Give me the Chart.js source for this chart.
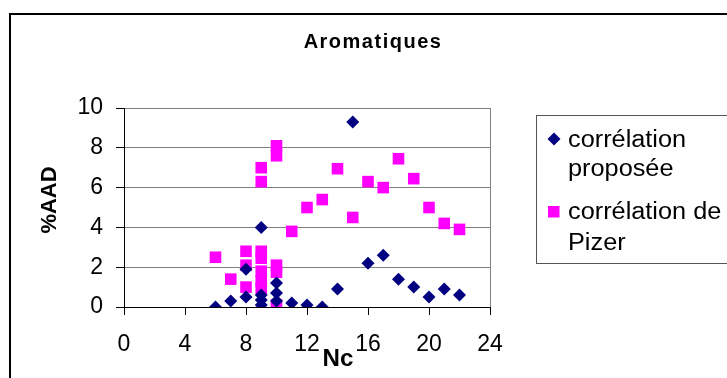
<!DOCTYPE html>
<html>
<head>
<meta charset="utf-8">
<script src="https://cdn.jsdelivr.net/npm/chart.js@4.4.1/dist/chart.umd.min.js"></script>
<style>
  body { margin: 0; background: #fff; }
  canvas { display: block; }
</style>
</head>
<body>
<canvas id="myCanvas" width="727" height="378"></canvas>
<script>
const FONT = "Arial, 'Liberation Sans', sans-serif";

// corrélation proposée
const ncProposee = [6, 7, 8, 8, 9, 9, 9, 9, 10, 10, 10, 11, 12, 13, 14, 15, 16, 17, 18, 19, 20, 21, 22];
const aadProposee = [0.0, 0.3, 0.5, 1.9, 4.0, 0.6, 0.35, 0.1, 1.2, 0.7, 0.3, 0.2, 0.1, 0.0, 0.9, 9.3, 2.2, 2.6, 1.4, 1.0, 0.5, 0.9, 0.6];

// corrélation de Pizer
const ncPizer = [6, 7, 8, 8, 8, 9, 9, 9, 9, 9, 9, 9, 10, 10, 10, 10, 10, 11, 12, 13, 14, 15, 16, 17, 18, 19, 20, 21, 22];
const aadPizer = [2.5, 1.4, 2.8, 2.1, 1.0, 7.0, 6.3, 2.8, 2.45, 1.8, 1.3, 0.95, 8.1, 7.6, 2.1, 1.75, 0.1, 3.8, 5.0, 5.4, 6.95, 4.5, 6.3, 6.0, 7.45, 6.45, 5.0, 4.2, 3.9];

const seriesLabels = [['corrélation', 'proposée'], ['corrélation de', 'Pizer']];
const chartTitle = 'Aromatiques';
const xTitle = 'Nc';
const yTitle = '%AAD';

const BLUE = '#000080';
const PINK = '#FF00FF';

const toPoints = (xs, ys) => xs.map((x, i) => ({ x: x, y: ys[i] }));

// helper: text stretched a bit wider, like the original picture
function wideText(ctx, text, x, y, sx, align) {
    ctx.save();
    ctx.translate(x, y);
    ctx.scale(sx, 1);
    ctx.textAlign = align || 'left';
    ctx.fillText(text, 0, 0);
    ctx.restore();
}

const decorations = {
    id: 'decorations',
    afterDraw(chart) {
        const ctx = chart.ctx;
        ctx.save();

        // outer frame
        ctx.strokeStyle = '#000';
        ctx.lineWidth = 2;
        ctx.strokeRect(10, 14, 760, 400);

        ctx.fillStyle = '#000';
        ctx.textBaseline = 'alphabetic';

        // title (spaced out like the original)
        ctx.save();
        ctx.font = 'bold 20px ' + FONT;
        ctx.letterSpacing = '1.5px';
        ctx.textAlign = 'center';
        ctx.fillText(chartTitle, 373, 48);
        ctx.restore();

        // x title
        ctx.font = 'bold 23px ' + FONT;
        wideText(ctx, xTitle, 338, 366, 1.05, 'center');

        // y title
        ctx.save();
        ctx.translate(56, 200);
        ctx.rotate(-Math.PI / 2);
        ctx.font = 'bold 22px ' + FONT;
        ctx.textAlign = 'center';
        ctx.fillText(yTitle, 0, 0);
        ctx.restore();

        // legend box
        ctx.strokeStyle = '#555';
        ctx.lineWidth = 1;
        ctx.strokeRect(536.5, 115.5, 300, 148);

        // legend markers
        ctx.fillStyle = BLUE;
        ctx.beginPath();
        ctx.moveTo(554, 132.5);
        ctx.lineTo(560.5, 139);
        ctx.lineTo(554, 145.5);
        ctx.lineTo(547.5, 139);
        ctx.closePath();
        ctx.fill();
        ctx.fillStyle = PINK;
        ctx.fillRect(548, 206, 11.5, 11.5);

        // legend text
        ctx.fillStyle = '#000';
        ctx.font = '23px ' + FONT;
        const baselines = [[147, 176], [219, 250]];
        seriesLabels.forEach((lines, i) => {
            lines.forEach((t, j) => wideText(ctx, t, 568, baselines[i][j], 1.1, 'left'));
        });

        ctx.restore();
    }
};

let chart = new Chart(document.getElementById('myCanvas').getContext('2d'), {
    type: 'scatter',
    data: {
        datasets: [{
            label: seriesLabels[0].join(' '),
            data: toPoints(ncProposee, aadProposee),
            pointStyle: 'rectRot',
            pointRadius: 6.5,
            backgroundColor: BLUE,
            borderColor: BLUE,
            borderWidth: 0
        }, {
            label: seriesLabels[1].join(' '),
            data: toPoints(ncPizer, aadPizer),
            pointStyle: 'rect',
            pointRadius: 8.2,
            backgroundColor: PINK,
            borderColor: PINK,
            borderWidth: 0
        }]
    },
    options: {
        responsive: false,
        animation: false,
        layout: { padding: { left: 0, top: 108, right: 237, bottom: 0 } },
        plugins: {
            legend: { display: false },
            title: { display: false },
            tooltip: { enabled: false }
        },
        scales: {
            x: {
                type: 'linear',
                min: 0,
                max: 24,
                afterFit: (scale) => { scale.height = 71; },
                ticks: {
                    stepSize: 4,
                    color: '#000',
                    padding: 16,
                    maxRotation: 0,
                    font: { family: FONT, size: 23 }
                },
                grid: {
                    color: (c) => c.tick && c.tick.value === 24 ? '#808080' : 'rgba(0,0,0,0)',
                    tickColor: '#000',
                    tickLength: 8
                },
                border: { color: '#000', width: 1 }
            },
            y: {
                min: 0,
                max: 10,
                afterFit: (scale) => { scale.width = 124; },
                ticks: {
                    stepSize: 2,
                    color: '#000',
                    padding: 13,
                    font: { family: FONT, size: 23 }
                },
                grid: {
                    color: (c) => c.tick && c.tick.value === 0 ? '#000' : '#808080',
                    tickColor: '#000',
                    tickLength: 8
                },
                border: { color: '#000', width: 1 }
            }
        }
    },
    plugins: [decorations]
});
</script>
</body>
</html>
